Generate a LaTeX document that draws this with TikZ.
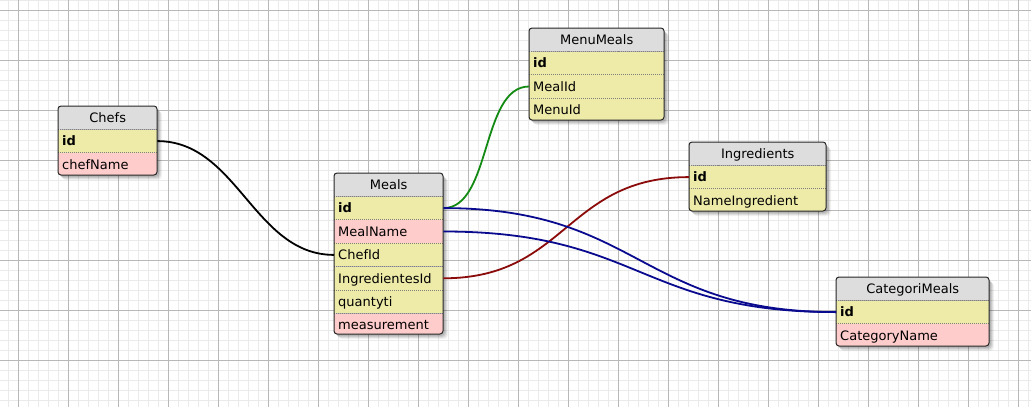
\documentclass[tikz,border=0pt]{standalone}
\usepackage{fontspec}
\setmainfont{DejaVu Sans}
\definecolor{gridminor}{HTML}{EAEAEA}
\definecolor{gridmajor}{HTML}{B8B8B8}
\definecolor{rowY}{HTML}{EEEBA9}
\definecolor{rowP}{HTML}{FFCCCC}
\definecolor{hdr}{HTML}{DDDDDD}
\definecolor{lnGreen}{HTML}{138A13}
\definecolor{lnRed}{HTML}{8B0A0A}
\definecolor{lnBlue}{HTML}{0A0A8F}
\definecolor{sepc}{HTML}{808080}
\newcommand\tblshadow[4]{%
  \foreach \s/\o in {5/0.05,4/0.07,3/0.09,2/0.10}{%
    \fill[black,opacity=\o,rounded corners=4pt] (#1+\s-1,#2+\s) rectangle (#3+\s,#4+\s);}}
\begin{document}
\begin{tikzpicture}[x=1pt,y=-1pt,
  cellbase/.style={anchor=north west, inner xsep=4pt, inner ysep=0pt, minimum height=23pt,
    text height=9.5pt, text depth=0pt, font=\fontsize{13}{15}\selectfont},
  hcell/.style={cellbase, fill=hdr, align=center},
  ycell/.style={cellbase, fill=rowY, align=left},
  pcell/.style={cellbase, fill=rowP, align=left},
  sep/.style={draw=sepc, dash pattern=on 1pt off 1pt, line width=0.8pt},
  frame/.style={draw=black!85, line width=1pt, rounded corners=3pt},
  link/.style={line width=1.8pt},
]
\useasboundingbox (0,0) rectangle (1031,407);
\fill[white] (0,0) rectangle (1031,407);
% grid
\foreach \gx in {8.5,18.5,...,1028.5} \draw[gridminor, line width=0.9pt] (\gx,0) -- (\gx,407);
\foreach \gy in {0.5,10.5,...,400.5} \draw[gridminor, line width=0.9pt] (0,\gy) -- (1031,\gy);
\foreach \gx in {18.5,68.5,...,1018.5} \draw[gridmajor, line width=0.9pt] (\gx,0) -- (\gx,407);
\foreach \gy in {10.5,60.5,...,360.5} \draw[gridmajor, line width=0.9pt] (0,\gy) -- (1031,\gy);

% ---------- Chefs ----------
\tblshadow{58}{106}{157}{175}
\begin{scope}
\clip[rounded corners=3pt] (58,106) rectangle (157,175);
\node[hcell, text width=91pt] (chefsH) at (58,106) {Chefs};
\node[ycell, text width=91pt] (chefsId) at (chefsH.south west) {\textbf{id}};
\node[pcell, text width=91pt] (chefsName) at (chefsId.south west) {chefName};
\end{scope}
\draw[sep] (chefsH.south west) -- (chefsH.south east);
\draw[sep] (chefsId.south west) -- (chefsId.south east);
\draw[frame] (58,106) rectangle (157,175);

% ---------- Meals ----------
\tblshadow{334}{173}{443}{334}
\begin{scope}
\clip[rounded corners=3pt] (334,173) rectangle (443,334);
\node[hcell, text width=101pt] (mealsH) at (334,173) {Meals};
\node[ycell, text width=101pt] (mealsId) at (mealsH.south west) {\textbf{id}};
\node[pcell, text width=101pt] (mealsName) at (mealsId.south west) {MealName};
\node[ycell, text width=101pt] (mealsChef) at (mealsName.south west) {ChefId};
\node[ycell, text width=101pt] (mealsIng) at (mealsChef.south west) {IngredientesId};
\node[ycell, text width=101pt] (mealsQty) at (mealsIng.south west) {quantyti};
\node[pcell, text width=101pt] (mealsMeas) at (mealsQty.south west) {measurement};
\end{scope}
\foreach \r in {mealsH,mealsId,mealsName,mealsChef,mealsIng,mealsQty}
  \draw[sep] (\r.south west) -- (\r.south east);
\draw[frame] (334,173) rectangle (443,334);

% ---------- MenuMeals ----------
\tblshadow{529}{28}{664}{120}
\begin{scope}
\clip[rounded corners=3pt] (529,28) rectangle (664,120);
\node[hcell, text width=127pt] (menuH) at (529,28) {MenuMeals};
\node[ycell, text width=127pt] (menuId) at (menuH.south west) {\textbf{id}};
\node[ycell, text width=127pt] (menuMeal) at (menuId.south west) {MealId};
\node[ycell, text width=127pt] (menuMenu) at (menuMeal.south west) {MenuId};
\end{scope}
\foreach \r in {menuH,menuId,menuMeal}
  \draw[sep] (\r.south west) -- (\r.south east);
\draw[frame] (529,28) rectangle (664,120);

% ---------- Ingredients ----------
\tblshadow{689}{142}{826}{211}
\begin{scope}
\clip[rounded corners=3pt] (689,142) rectangle (826,211);
\node[hcell, text width=129pt] (ingH) at (689,142) {Ingredients};
\node[ycell, text width=129pt] (ingId) at (ingH.south west) {\textbf{id}};
\node[ycell, text width=129pt] (ingName) at (ingId.south west) {NameIngredient};
\end{scope}
\foreach \r in {ingH,ingId}
  \draw[sep] (\r.south west) -- (\r.south east);
\draw[frame] (689,142) rectangle (826,211);

% ---------- CategoriMeals ----------
\tblshadow{836}{277}{989}{346}
\begin{scope}
\clip[rounded corners=3pt] (836,277) rectangle (989,346);
\node[hcell, text width=145pt] (catH) at (836,277) {CategoriMeals};
\node[ycell, text width=145pt] (catId) at (catH.south west) {\textbf{id}};
\node[pcell, text width=145pt] (catName) at (catId.south west) {CategoryName};
\end{scope}
\foreach \r in {catH,catId}
  \draw[sep] (\r.south west) -- (\r.south east);
\draw[frame] (836,277) rectangle (989,346);

% ---------- connectors ----------
\draw[link, black] (chefsId.east) .. controls +(80,0) and +(-80,0) .. (mealsChef.west);
\draw[link, lnGreen] (mealsId.east) .. controls +(48,0) and +(-48,0) .. (menuMeal.west);
\draw[link, lnRed] (mealsIng.east) .. controls +(123,0) and +(-123,0) .. (ingId.west);
\draw[link, lnBlue] (mealsId.east) .. controls +(196,0) and +(-196,0) .. (catId.west);
\draw[link, lnBlue] (mealsName.east) .. controls +(196,0) and +(-196,0) .. (catId.west);
\end{tikzpicture}
\end{document}
